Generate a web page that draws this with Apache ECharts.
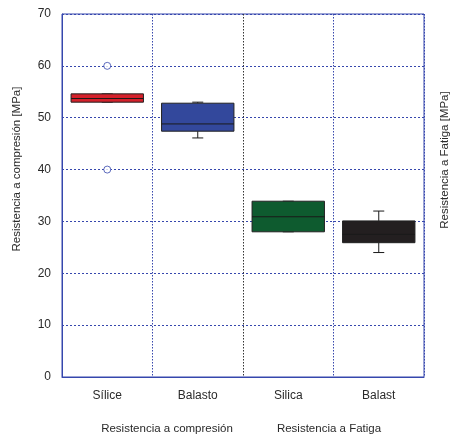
<!DOCTYPE html>
<html>
<head>
<meta charset="utf-8">
<script src="https://cdn.jsdelivr.net/npm/echarts@6/dist/echarts.min.js"></script>
<style>html,body{margin:0;padding:0;background:#fff}#c{width:453px;height:435px}</style>
</head>
<body>
<div id="c"></div>
<script>
const categories = ['Sílice', 'Balasto', 'Silica', 'Balast'];
const groupLabels = ['Resistencia a compresión', 'Resistencia a Fatiga'];
const axisTitles = ['Resistencia a compresión [MPa]', 'Resistencia a Fatiga [MPa]'];
// [min, Q1, median, Q3, max]
const boxStats = [
  [53.0, 53.0, 53.7, 54.6, 54.6],
  [46.1, 47.4, 48.8, 52.8, 53.0],
  [28.0, 28.0, 30.9, 33.9, 33.9],
  [24.0, 25.9, 27.5, 30.1, 32.0]
];
const outliers = [[0, 60], [0, 40]];
const yTicks = [0, 10, 20, 30, 40, 50, 60, 70];
const boxColors = ['#d5202a', '#33489c', '#0e5b2f', '#231f20'];

const FONT = 'Liberation Sans, Arial, sans-serif';
const GRID_BLUE = '#3647ad';
const TXT = '#2a2a2a';

const chart = echarts.init(document.getElementById('c'));
chart.setOption({
  animation: false,
  grid: { left: 62, right: 29, top: 14, bottom: 58, show: true, borderColor: GRID_BLUE, borderWidth: 1 },
  xAxis: {
    type: 'category',
    data: categories,
    axisLine: { lineStyle: { color: GRID_BLUE } },
    axisTick: { show: false },
    axisLabel: { color: TXT, fontFamily: FONT, fontSize: 12, margin: 13 },
    splitLine: { show: true, lineStyle: { color: [GRID_BLUE, GRID_BLUE, '#333', GRID_BLUE, GRID_BLUE], type: [1.5, 1.5], width: 1 } }
  },
  yAxis: {
    type: 'value', min: yTicks[0], max: yTicks[yTicks.length - 1], interval: yTicks[1] - yTicks[0],
    axisLine: { show: true, lineStyle: { color: GRID_BLUE } },
    axisTick: { show: false },
    axisLabel: { color: TXT, fontFamily: FONT, fontSize: 12, margin: 11 },
    splitLine: { show: true, lineStyle: { color: GRID_BLUE, type: [2, 2] } }
  },
  graphic: [
    { type: 'text', x: 17, y: 169, rotation: Math.PI / 2,
      style: { text: axisTitles[0], fill: TXT, font: '11.5px ' + FONT, textAlign: 'center', textVerticalAlign: 'middle' } },
    { type: 'text', x: 445, y: 160, rotation: Math.PI / 2,
      style: { text: axisTitles[1], fill: TXT, font: '11.5px ' + FONT, textAlign: 'center', textVerticalAlign: 'middle' } },
    { type: 'text', x: 167, y: 429,
      style: { text: groupLabels[0], fill: TXT, font: '11.5px ' + FONT, textAlign: 'center', textVerticalAlign: 'middle' } },
    { type: 'text', x: 329, y: 429,
      style: { text: groupLabels[1], fill: TXT, font: '11.5px ' + FONT, textAlign: 'center', textVerticalAlign: 'middle' } }
  ],
  series: [{
    type: 'custom',
    data: boxStats.map((s, i) => [i].concat(s)),
    renderItem: function (params, api) {
      const i = api.value(0);
      const w = api.size([1, 0])[0] * 0.8;
      const pMin = api.coord([i, api.value(1)]);
      const pQ1 = api.coord([i, api.value(2)]);
      const pMed = api.coord([i, api.value(3)]);
      const pQ3 = api.coord([i, api.value(4)]);
      const pMax = api.coord([i, api.value(5)]);
      const x = pQ1[0];
      const cap = 5.5;
      const ls = { stroke: '#1a1a1a', lineWidth: 1 };
      return {
        type: 'group',
        children: [
          { type: 'line', shape: { x1: x, y1: pMax[1], x2: x, y2: pQ3[1] }, style: ls },
          { type: 'line', shape: { x1: x, y1: pMin[1], x2: x, y2: pQ1[1] }, style: ls },
          { type: 'line', shape: { x1: x - cap, y1: pMax[1], x2: x + cap, y2: pMax[1] }, style: ls },
          { type: 'line', shape: { x1: x - cap, y1: pMin[1], x2: x + cap, y2: pMin[1] }, style: ls },
          { type: 'rect', shape: { x: x - w / 2, y: pQ3[1], width: w, height: pQ1[1] - pQ3[1] },
            style: { fill: boxColors[i], stroke: '#222', lineWidth: 1 } },
          { type: 'line', shape: { x1: x - w / 2, y1: pMed[1], x2: x + w / 2, y2: pMed[1] }, style: ls }
        ]
      };
    }
  }, {
    type: 'scatter',
    data: outliers,
    symbol: 'circle', symbolSize: 7,
    itemStyle: { color: '#fff', borderColor: GRID_BLUE, borderWidth: 1 }
  }]
});
</script>
</body>
</html>
